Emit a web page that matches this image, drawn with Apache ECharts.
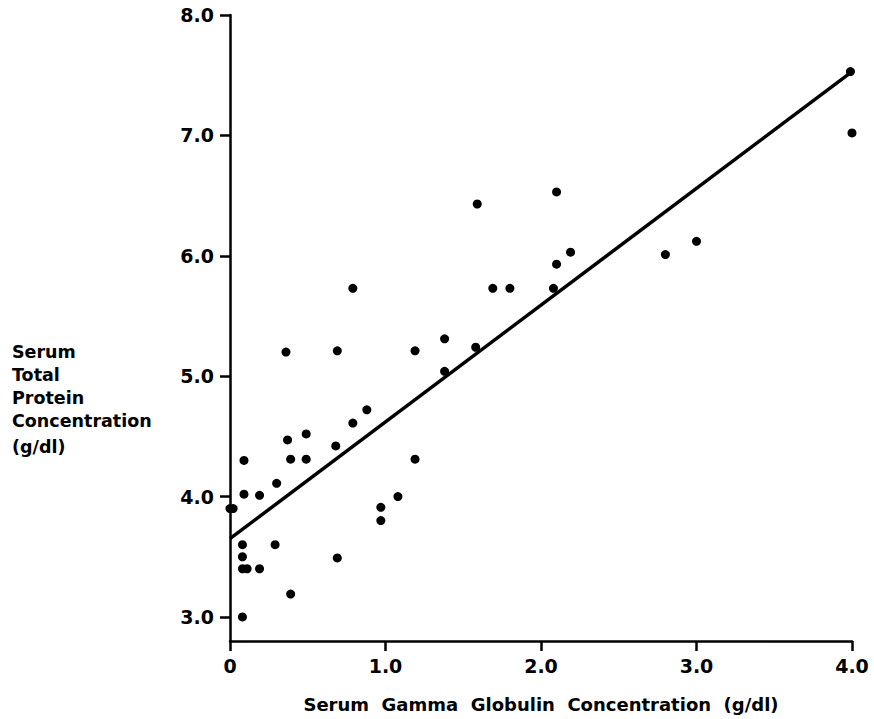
<!DOCTYPE html>
<html>
<head>
<meta charset="utf-8">
<script src="https://cdn.jsdelivr.net/npm/echarts@6/dist/echarts.min.js"></script>
<style>
html,body{margin:0;padding:0;background:#fff;}
#chart{width:874px;height:719px;}
</style>
</head>
<body>
<div id="chart"></div>
<script>
// Serum gamma globulin (g/dl)
const gammaGlobulin = [0.00,0.02,0.08,0.08,0.11,0.19,0.08,0.08,0.09,0.19,0.09,0.30,0.29,0.39,0.37,0.39,0.36,0.49,0.49,0.68,0.69,0.69,0.79,0.79,0.88,0.97,0.97,1.08,1.19,1.19,1.38,1.38,1.58,1.59,1.69,1.80,2.08,2.10,2.10,2.19,2.80,3.00,3.99,4.00];
// Serum total protein (g/dl)
const totalProtein = [3.90,3.90,3.00,3.40,3.40,3.40,3.50,3.60,4.02,4.01,4.30,4.11,3.60,3.19,4.47,4.31,5.20,4.52,4.31,4.42,3.49,5.21,4.61,5.73,4.72,3.91,3.80,4.00,4.31,5.21,5.04,5.31,5.24,6.43,5.73,5.73,5.73,5.93,6.53,6.03,6.01,6.12,7.53,7.02];
// Regression line end points
const fitX = [0, 4.0];
const fitY = [3.65, 7.53];
// Tick labels
const xTicks = [0, 1, 2, 3, 4];
const xTickLabels = ['0', '1.0', '2.0', '3.0', '4.0'];
const yTicks = [3, 4, 5, 6, 7, 8];
const yTickLabels = ['3.0', '4.0', '5.0', '6.0', '7.0', '8.0'];
const xAxisTitle = 'Serum  Gamma  Globulin  Concentration  (g/dl)';
const yAxisTitleLines = ['Serum', 'Total', 'Protein', 'Concentration', '(g/dl)'];

const FONT = 'DejaVu Sans';
const chart = echarts.init(document.getElementById('chart'), null, {renderer: 'svg'});
const points = gammaGlobulin.map((x, i) => [x, totalProtein[i]]);
const fit = fitX.map((x, i) => [x, fitY[i]]);

chart.setOption({
  animation: false,
  backgroundColor: '#fff',
  grid: {left: 230, right: 22, top: 15, bottom: 78},
  xAxis: {
    type: 'value', min: 0, max: 4,
    axisLine: {onZero: false, lineStyle: {color: '#000', width: 2.5}},
    axisTick: {customValues: xTicks, length: 10, lineStyle: {color: '#000', width: 2.5}},
    axisLabel: {
      customValues: xTicks, margin: 15,
      formatter: v => xTickLabels[xTicks.indexOf(v)],
      color: '#000', fontFamily: FONT, fontWeight: 'bold', fontSize: 19
    },
    splitLine: {show: false},
    name: xAxisTitle, nameLocation: 'middle', nameGap: 54,
    nameTextStyle: {color: '#000', fontFamily: FONT, fontWeight: 'bold', fontSize: 18}
  },
  yAxis: {
    type: 'value', min: 2.8, max: 8.0,
    axisLine: {show: true, onZero: false, lineStyle: {color: '#000', width: 2.5}},
    axisTick: {show: true, customValues: yTicks, length: 10, lineStyle: {color: '#000', width: 2.5}},
    axisLabel: {
      customValues: yTicks, margin: 16,
      formatter: v => yTickLabels[yTicks.indexOf(v)],
      color: '#000', fontFamily: FONT, fontWeight: 'bold', fontSize: 19
    },
    splitLine: {show: false}
  },
  graphic: [{
    type: 'text', left: 12, top: 340,
    style: {
      text: yAxisTitleLines.slice(0, 4).join('\n'),
      fill: '#000', font: 'bold 17.5px "DejaVu Sans"', lineHeight: 23
    }
  }, {
    type: 'text', left: 12, top: 435,
    style: {
      text: yAxisTitleLines[4],
      fill: '#000', font: 'bold 17.5px "DejaVu Sans"', lineHeight: 23
    }
  }],
  series: [
    {
      type: 'scatter', data: points, symbol: 'circle', symbolSize: 9,
      itemStyle: {color: '#000', opacity: 1}
    },
    {
      type: 'line', data: fit, symbol: 'none',
      lineStyle: {color: '#000', width: 3.5}
    }
  ]
});
</script>
</body>
</html>
